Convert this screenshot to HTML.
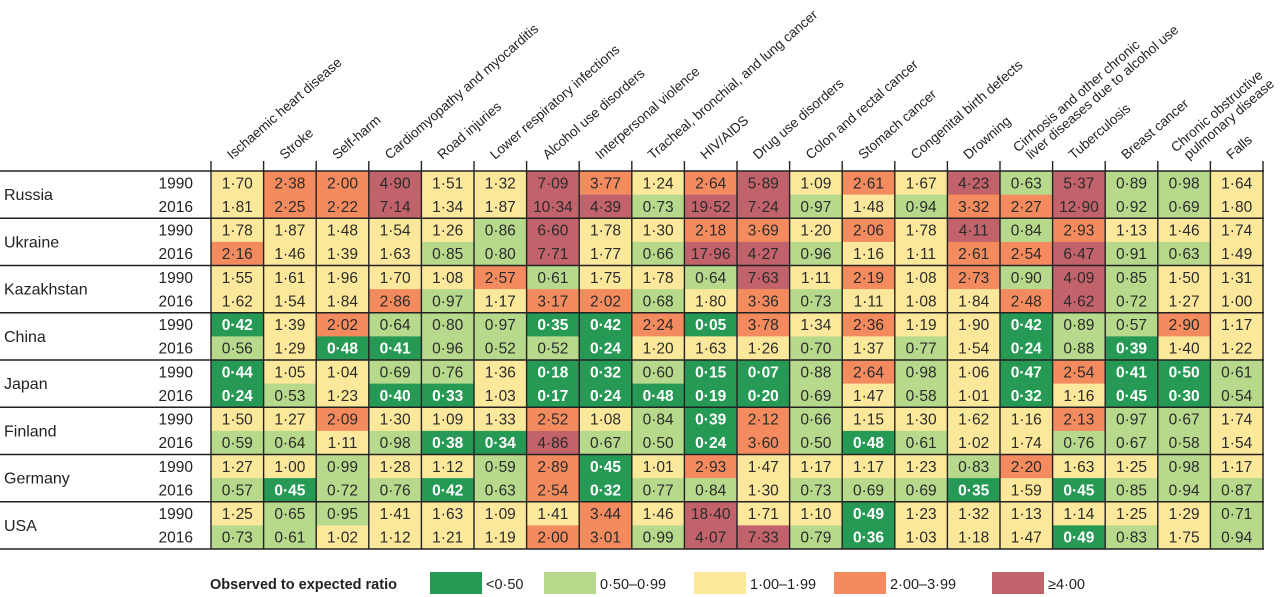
<!DOCTYPE html>
<html><head><meta charset="utf-8"><title>Observed to expected ratio heatmap</title>
<style>
html,body{margin:0;padding:0;background:#fff;}
svg{display:block;font-family:"Liberation Sans",sans-serif;}
</style></head>
<body>
<svg id="chart" width="1280" height="597" viewBox="0 0 1280 597" xmlns="http://www.w3.org/2000/svg"></svg>
<script>
const causes = ["Ischaemic heart disease","Stroke","Self-harm","Cardiomyopathy and myocarditis","Road injuries","Lower respiratory infections","Alcohol use disorders","Interpersonal violence","Tracheal, bronchial, and lung cancer","HIV/AIDS","Drug use disorders","Colon and rectal cancer","Stomach cancer","Congenital birth defects","Drowning","Cirrhosis and other chronic|liver diseases due to alcohol use","Tuberculosis","Breast cancer","Chronic obstructive|pulmonary disease","Falls"];
const countries = ["Russia","Ukraine","Kazakhstan","China","Japan","Finland","Germany","USA"];
const years = ["1990","2016"];
const russia1990 = [1.70,2.38,2.00,4.90,1.51,1.32,7.09,3.77,1.24,2.64,5.89,1.09,2.61,1.67,4.23,0.63,5.37,0.89,0.98,1.64];
const russia2016 = [1.81,2.25,2.22,7.14,1.34,1.87,10.34,4.39,0.73,19.52,7.24,0.97,1.48,0.94,3.32,2.27,12.90,0.92,0.69,1.80];
const ukraine1990 = [1.78,1.87,1.48,1.54,1.26,0.86,6.60,1.78,1.30,2.18,3.69,1.20,2.06,1.78,4.11,0.84,2.93,1.13,1.46,1.74];
const ukraine2016 = [2.16,1.46,1.39,1.63,0.85,0.80,7.71,1.77,0.66,17.96,4.27,0.96,1.16,1.11,2.61,2.54,6.47,0.91,0.63,1.49];
const kazakhstan1990 = [1.55,1.61,1.96,1.70,1.08,2.57,0.61,1.75,1.78,0.64,7.63,1.11,2.19,1.08,2.73,0.90,4.09,0.85,1.50,1.31];
const kazakhstan2016 = [1.62,1.54,1.84,2.86,0.97,1.17,3.17,2.02,0.68,1.80,3.36,0.73,1.11,1.08,1.84,2.48,4.62,0.72,1.27,1.00];
const china1990 = [0.42,1.39,2.02,0.64,0.80,0.97,0.35,0.42,2.24,0.05,3.78,1.34,2.36,1.19,1.90,0.42,0.89,0.57,2.90,1.17];
const china2016 = [0.56,1.29,0.48,0.41,0.96,0.52,0.52,0.24,1.20,1.63,1.26,0.70,1.37,0.77,1.54,0.24,0.88,0.39,1.40,1.22];
const japan1990 = [0.44,1.05,1.04,0.69,0.76,1.36,0.18,0.32,0.60,0.15,0.07,0.88,2.64,0.98,1.06,0.47,2.54,0.41,0.499,0.61];
const japan2016 = [0.24,0.53,1.23,0.40,0.33,1.03,0.17,0.24,0.48,0.19,0.20,0.69,1.47,0.58,1.01,0.32,1.16,0.45,0.30,0.54];
const finland1990 = [1.50,1.27,2.09,1.30,1.09,1.33,2.52,1.08,0.84,0.39,2.12,0.66,1.15,1.30,1.62,1.16,2.13,0.97,0.67,1.74];
const finland2016 = [0.59,0.64,1.11,0.98,0.38,0.34,4.86,0.67,0.50,0.24,3.60,0.50,0.48,0.61,1.02,1.74,0.76,0.67,0.58,1.54];
const germany1990 = [1.27,1.00,0.99,1.28,1.12,0.59,2.89,0.45,1.01,2.93,1.47,1.17,1.17,1.23,0.83,2.20,1.63,1.25,0.98,1.17];
const germany2016 = [0.57,0.45,0.72,0.76,0.42,0.63,2.54,0.32,0.77,0.84,1.30,0.73,0.69,0.69,0.35,1.59,0.45,0.85,0.94,0.87];
const usa1990 = [1.25,0.65,0.95,1.41,1.63,1.09,1.41,3.44,1.46,18.40,1.71,1.10,0.49,1.23,1.32,1.13,1.14,1.25,1.29,0.71];
const usa2016 = [0.73,0.61,1.02,1.12,1.21,1.19,2.00,3.01,0.99,4.07,7.33,0.79,0.36,1.03,1.18,1.47,0.49,0.83,1.75,0.94];
const legendLabels = ["<0·50","0·50–0·99","1·00–1·99","2·00–3·99","≥4·00"];
const thresholds = [0.5,1,2,4];

const series = [[russia1990,russia2016],[ukraine1990,ukraine2016],[kazakhstan1990,kazakhstan2016],[china1990,china2016],[japan1990,japan2016],[finland1990,finland2016],[germany1990,germany2016],[usa1990,usa2016]];
const palette = ["#269a55","#b6d98c","#fce89b","#f38b5e","#c2626a"];
const NS = "http://www.w3.org/2000/svg";
const svg = document.getElementById("chart");
const X0 = 211, COLW = 52.6, Y0 = 171, BLOCKH = 47.25, ROWH = BLOCKH/2;
function colX(i){ return X0 + i*COLW; }
function blockY(b){ return Y0 + b*BLOCKH; }
function rowY(b,r){ return blockY(b) + r*ROWH; }
function binOf(v){ let k=0; while(k<thresholds.length && v>=thresholds[k]) k++; return k; }
function fmt(v){ return v.toFixed(2).replace(".", "·"); }
function mk(tag, attrs, parent){ const e=document.createElementNS(NS,tag); for(const k in attrs) e.setAttribute(k,attrs[k]); (parent||svg).appendChild(e); return e; }

series.forEach((pair,b)=>{
  pair.forEach((vals,r)=>{
    vals.forEach((v,c)=>{
      const k = binOf(v);
      const rect = mk("rect",{x:colX(c),y:rowY(b,r),width:COLW+0.3,height:ROWH+0.3,fill:palette[k]});
      
      
      const t = mk("text",{x:colX(c)+COLW/2,y:rowY(b,r)+ROWH/2+5.5,"text-anchor":"middle","font-size":"15.5",fill:k===0?"#fff":"#2b2b2b","font-weight":k===0?"bold":"normal"});
      t.textContent = fmt(v);
      
      
    });
  });
});

countries.forEach((name,b)=>{
  const t = mk("text",{x:4,y:blockY(b)+BLOCKH/2+5.5,"font-size":"16",fill:"#222"});
  t.textContent = name;
  
  
  years.forEach((yr,r)=>{
    const y = mk("text",{x:193,y:rowY(b,r)+ROWH/2+5.5,"text-anchor":"end","font-size":"15.5",fill:"#222"});
    y.textContent = yr;
    
    
  });
});

for(let b=0;b<=countries.length;b++){
  const l = mk("line",{x1:0,x2:colX(causes.length)+1,y1:blockY(b),y2:blockY(b),stroke:"#222","stroke-width":"1.6"});
  
  
}
for(let c=0;c<=causes.length;c++){
  const l = mk("line",{x1:colX(c),x2:colX(c),y1:Y0-10,y2:blockY(countries.length),stroke:"#222","stroke-width":"1.4"});
  
  
}

causes.forEach((name,c)=>{
  const parts = name.split("|");
  const ax = colX(c) + (parts.length>1 ? 31 : 21);
  const ay = 160;
  const t = mk("text",{transform:`translate(${ax},${ay}) rotate(-41)`,"font-size":"13.6",fill:"#222"});
  
  
  if(parts.length===1){ t.textContent = name; }
  else{
    const s1 = mk("tspan",{x:-5,y:-14},t); s1.textContent = parts[0];
    const s2 = mk("tspan",{x:0,y:0},t); s2.textContent = parts[1];
  }
});

const lt = mk("text",{x:210,y:589,"font-size":"14.5","font-weight":"bold",fill:"#222"});
lt.textContent = "Observed to expected ratio";


const legendX = [430,544,694,834,992];
legendLabels.forEach((lab,i)=>{
  const r = mk("rect",{x:legendX[i],y:572,width:52,height:22,fill:palette[i]});
  
  
  const t = mk("text",{x:legendX[i]+56,y:589,"font-size":"14.5",fill:"#222"});
  t.textContent = lab;
  
  
});
</script>
</body></html>
